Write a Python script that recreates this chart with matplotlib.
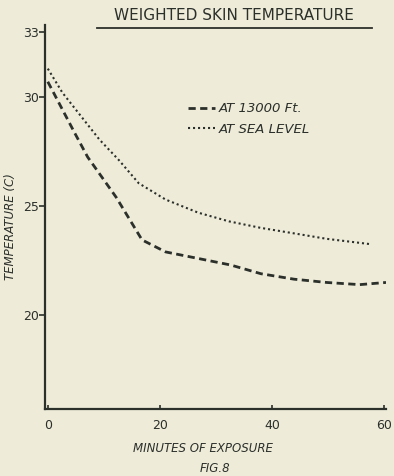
import numpy as np
import matplotlib
matplotlib.use("Agg")
import matplotlib.pyplot as plt
from matplotlib.lines import Line2D

# ---------------------------------------------------------------------------
# Data (minutes of exposure vs weighted skin temperature)
# ---------------------------------------------------------------------------
min_13000 = [0, 4.8, 7.1, 12.2, 16.8, 21, 26.8, 32.6, 38, 43.9, 49.7, 55.6, 60.3]
temp_13000 = [30.7, 28.35, 27.25, 25.4, 23.45, 22.9, 22.6, 22.3, 21.9, 21.65, 21.5, 21.4, 21.5]

min_sea = [0, 2.6, 9.2, 12.7, 16.2, 21, 26.8, 32.3, 38, 43.9, 49.7, 57.7]
temp_sea = [31.3, 30.2, 28.05, 27.1, 26.05, 25.3, 24.7, 24.3, 24.0, 23.75, 23.5, 23.25]

x_ticks = [0, 20, 40, 60]
y_ticks = [20, 25, 30, 33]
labels = ["AT 13000 Ft.", "AT SEA LEVEL"]

PAPER = "#eeebd9"
INK = "#2c302b"

fig = plt.figure(figsize=(3.94, 4.76), dpi=100, facecolor=PAPER)
ax = fig.add_axes([45 / 394, 1 - 409 / 476, 341 / 394, 384 / 476])
ax.set_facecolor(PAPER)

l1, = ax.plot(min_13000, temp_13000, color=INK, lw=2.0,
              linestyle=(0, (2.6, 1.6)), solid_capstyle="butt")
l2, = ax.plot(min_sea, temp_sea, color=INK, lw=1.5,
              linestyle=(0, (1.0, 1.4)))

ax.set_xlim(-0.5, 60.3)
ax.set_ylim(15.7, 33.3)
for s in ["top", "right"]:
    ax.spines[s].set_visible(False)
for s in ["left", "bottom"]:
    ax.spines[s].set_color(INK)
    ax.spines[s].set_linewidth(1.6)

ax.set_xticks(x_ticks)
ax.set_yticks(y_ticks)
ax.tick_params(axis="x", direction="in", length=3, width=1.2, colors=INK,
               labelsize=9, pad=7)
ax.tick_params(axis="y", direction="out", length=4, width=1.2, colors=INK,
               labelsize=9, pad=0.5)

leg = ax.legend([l1, l2], labels, loc="upper left", bbox_to_anchor=(0.385, 0.83),
                frameon=False, handlelength=2.0, handletextpad=0.3,
                labelspacing=0.6, prop={"style": "italic", "size": 9.5})
for t in leg.get_texts():
    t.set_color(INK)

# title, underlined
fig.text(234 / 394, 1 - 16 / 476, "WEIGHTED SKIN TEMPERATURE", ha="center",
         va="center", fontsize=11, color=INK)
fig.add_artist(Line2D([97 / 394, 372 / 394], [1 - 28 / 476, 1 - 28 / 476],
                      color=INK, lw=1.3))

fig.text(11 / 394, 1 - 227 / 476, "TEMPERATURE (C)", rotation=90, ha="center",
         va="center", fontsize=8.5, style="italic", color=INK)
fig.text(203 / 394, 1 - 449 / 476, "MINUTES OF EXPOSURE", ha="center",
         va="center", fontsize=8.5, style="italic", color=INK)
fig.text(215 / 394, 1 - 469 / 476, "FIG.8", ha="center", va="center",
         fontsize=8.5, style="italic", color=INK)

fig.savefig("out.png", dpi=100, facecolor=PAPER)
